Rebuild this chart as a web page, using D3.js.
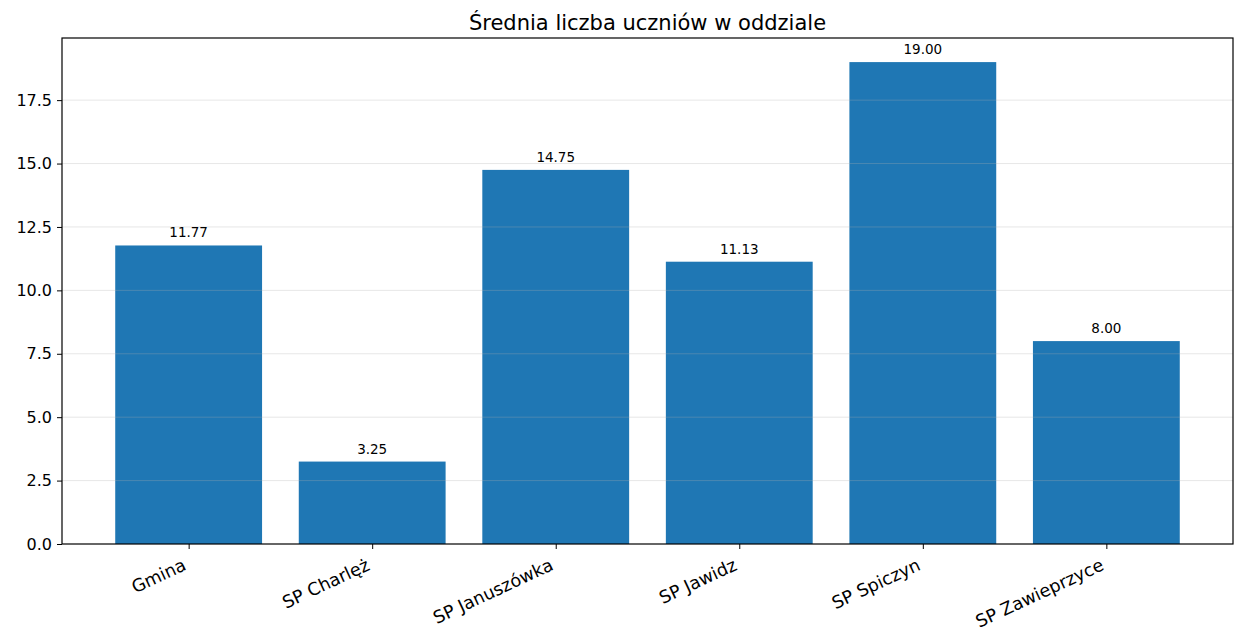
<!DOCTYPE html>
<html>
<head>
<meta charset="utf-8">
<script src="https://cdn.jsdelivr.net/npm/d3@7"></script>
<style>
  body { margin: 0; background: #fff; }
  text { font-family: "DejaVu Sans", sans-serif; fill: #000; }
</style>
</head>
<body>
<div id="chart"></div>
<script>
// data
var schools = ["Gmina", "SP Charlęż", "SP Januszówka", "SP Jawidz", "SP Spiczyn", "SP Zawieprzyce"];
var avgPupils = [11.77, 3.25, 14.75, 11.13, 19.00, 8.00];
var yTicks = [0, 2.5, 5, 7.5, 10, 12.5, 15, 17.5];

var svgWidth = 1235;
var svgHeight = 627;

var margin = { top: 38, right: 2, bottom: 83, left: 62 };
var width = svgWidth - margin.left - margin.right;
var height = svgHeight - margin.top - margin.bottom;

var svg = d3.select("#chart")
  .append("svg")
  .attr("width", svgWidth)
  .attr("height", svgHeight);

var chartGroup = svg.append("g")
  .attr("transform", `translate(${margin.left}, ${margin.top})`);

// matplotlib-like linear x: bars at 0..n-1, width 0.8, 5% margins
var n = schools.length;
var pad = 0.05 * (n - 1 + 0.8);
var xLinearScale = d3.scaleLinear()
  .domain([-0.4 - pad, n - 1 + 0.4 + pad])
  .range([0, width]);

var yLinearScale = d3.scaleLinear()
  .domain([0, d3.max(avgPupils) * 1.05])
  .range([height, 0]);

// bars
chartGroup.selectAll(".bar")
  .data(avgPupils)
  .enter()
  .append("rect")
  .attr("class", "bar")
  .attr("x", (d, i) => xLinearScale(i - 0.4))
  .attr("width", xLinearScale(0.8) - xLinearScale(0))
  .attr("y", d => yLinearScale(d))
  .attr("height", d => height - yLinearScale(d))
  .attr("fill", "#1f77b4");

// grid drawn over the bars, faint
chartGroup.append("g")
  .selectAll("line")
  .data(yTicks.slice(1))
  .enter()
  .append("line")
  .attr("x1", 0)
  .attr("x2", width)
  .attr("y1", d => yLinearScale(d))
  .attr("y2", d => yLinearScale(d))
  .attr("stroke", "#b0b0b0")
  .attr("stroke-opacity", 0.3)
  .attr("stroke-width", 1);

// value labels
chartGroup.selectAll(".val")
  .data(avgPupils)
  .enter()
  .append("text")
  .attr("class", "val")
  .attr("x", (d, i) => xLinearScale(i))
  .attr("y", d => yLinearScale(d) - 8)
  .attr("text-anchor", "middle")
  .style("font-size", "13.5px")
  .text(d => d.toFixed(2));

// y axis
var leftAxis = d3.axisLeft(yLinearScale)
  .tickValues(yTicks)
  .tickFormat(d3.format(".1f"))
  .tickSize(5)
  .tickPadding(5);

var yAxis = chartGroup.append("g").call(leftAxis);
yAxis.select(".domain").remove();
yAxis.selectAll("text").style("font-size", "16px");

// x axis
var bottomAxis = d3.axisBottom(xLinearScale)
  .tickValues(d3.range(n))
  .tickFormat(i => schools[i])
  .tickSize(5);

var xAxis = chartGroup.append("g")
  .attr("transform", `translate(0, ${height})`)
  .call(bottomAxis);
xAxis.select(".domain").remove();
// rotated labels, right end of the descent line pinned under the tick
xAxis.selectAll("text")
  .style("font-size", "17.6px")
  .attr("text-anchor", "end")
  .attr("y", null)
  .attr("dy", "-0.236em")
  .attr("transform", "translate(0, 29) rotate(-25)");

// frame
chartGroup.append("rect")
  .attr("width", width)
  .attr("height", height)
  .attr("fill", "none")
  .attr("stroke", "#000")
  .attr("stroke-width", 1.2);

// title
svg.append("text")
  .attr("x", margin.left + width / 2)
  .attr("y", 30)
  .attr("text-anchor", "middle")
  .style("font-size", "21px")
  .text("Średnia liczba uczniów w oddziale");
</script>
</body>
</html>
